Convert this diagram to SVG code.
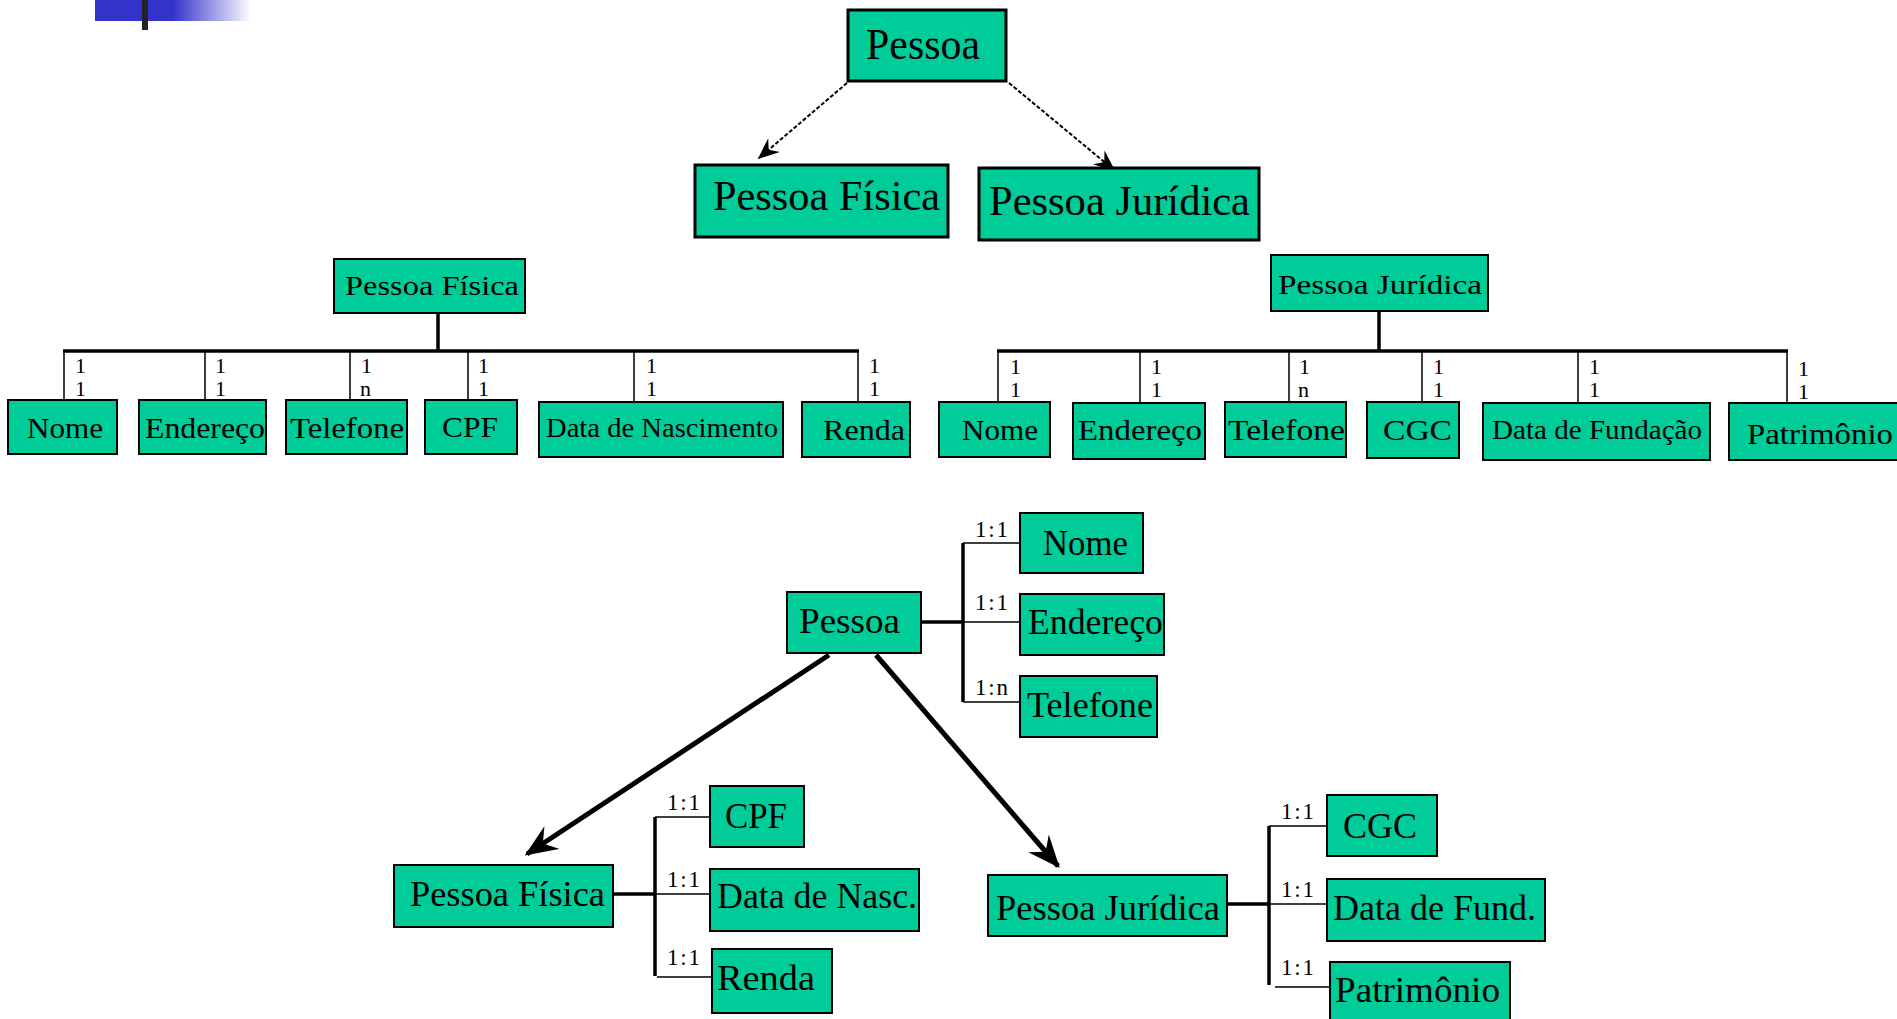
<svg xmlns="http://www.w3.org/2000/svg" width="1897" height="1019" viewBox="0 0 1897 1019">
  <defs>
    <linearGradient id="fade" x1="0" y1="0" x2="1" y2="0">
      <stop offset="0" stop-color="#3333cc"/>
      <stop offset="1" stop-color="#3333cc" stop-opacity="0"/>
    </linearGradient>
    <marker id="headThin" viewBox="0 0 12 10" refX="11" refY="5" markerWidth="24" markerHeight="18" markerUnits="userSpaceOnUse" orient="auto">
      <path d="M0,0 L12,5 L0,10 L4,5 z" fill="#000"/>
    </marker>
    <marker id="headBig" viewBox="0 0 12 10" refX="11" refY="5" markerWidth="6.5" markerHeight="5.5" orient="auto">
      <path d="M0,0 L12,5 L0,10 L4,5 z" fill="#000"/>
    </marker>
    <style>
      .box { fill: #00cc99; stroke: #000; stroke-width: 2; }
      .boxT { fill: #00cc99; stroke: #000; stroke-width: 3; }
      .lbl { font-family: "Liberation Serif", "DejaVu Serif", serif; fill: #000; }
      .num { font-family: "Liberation Serif", "DejaVu Serif", serif; font-size: 22px; fill: #000; }
      .card { font-family: "Liberation Serif", "DejaVu Serif", serif; font-size: 23px; fill: #000; }
      .thick { stroke: #000; stroke-width: 3.5; fill: none; }
      .thin { stroke: #000; stroke-width: 1.5; fill: none; }
      .dotted { stroke: #000; stroke-width: 2; stroke-dasharray: 4 2; fill: none; }
      .bold { stroke: #000; stroke-width: 5; fill: none; }
    </style>
  </defs>

  <!-- header ornament -->
  <rect x="95" y="0" width="78" height="21" fill="#3333cc"/>
  <rect x="173" y="0" width="78" height="21" fill="url(#fade)"/>
  <rect x="142" y="0" width="6" height="30" fill="#222"/>

  <!-- connectors -->
  <g id="connectors">
    <!-- top hierarchy -->
    <line class="dotted" x1="847" y1="83" x2="759" y2="158" marker-end="url(#headThin)"/>
    <line class="dotted" x1="1009" y1="83" x2="1114" y2="170" marker-end="url(#headThin)"/>

    <!-- Pessoa Física tree -->
    <line class="thick" x1="438" y1="313" x2="438" y2="351"/>
    <line class="thick" x1="63" y1="351" x2="859" y2="351"/>
    <path class="thin" d="M64,351 V400 M205,351 V400 M350,351 V400 M468,351 V400 M634,351 V402 M858,351 V402"/>
    <g class="num">
      <text x="75" y="373">1</text><text x="75" y="396">1</text>
      <text x="215" y="373">1</text><text x="215" y="396">1</text>
      <text x="361" y="373">1</text><text x="360" y="396">n</text>
      <text x="478" y="373">1</text><text x="478" y="396">1</text>
      <text x="646" y="373">1</text><text x="646" y="396">1</text>
      <text x="869" y="373">1</text><text x="869" y="396">1</text>
    </g>

    <!-- Pessoa Jurídica tree -->
    <line class="thick" x1="1379" y1="311" x2="1379" y2="351"/>
    <line class="thick" x1="997" y1="351" x2="1788" y2="351"/>
    <path class="thin" d="M998,351 V402 M1140,351 V403 M1289,351 V402 M1422,351 V402 M1578,351 V403 M1787,351 V403"/>
    <g class="num">
      <text x="1010" y="374">1</text><text x="1010" y="397">1</text>
      <text x="1151" y="374">1</text><text x="1151" y="397">1</text>
      <text x="1299" y="374">1</text><text x="1298" y="397">n</text>
      <text x="1433" y="374">1</text><text x="1433" y="397">1</text>
      <text x="1589" y="374">1</text><text x="1589" y="397">1</text>
      <text x="1798" y="376">1</text><text x="1798" y="399">1</text>
    </g>

    <!-- bottom: Pessoa attributes -->
    <line class="thick" x1="921" y1="622" x2="963" y2="622"/>
    <line class="thick" x1="963" y1="543" x2="963" y2="702"/>
    <path class="thin" d="M963,543 H1020 M963,622 H1020 M963,702 H1020"/>
    <g class="card">
      <text x="975" y="537" textLength="33">1:1</text>
      <text x="975" y="610" textLength="33">1:1</text>
      <text x="975" y="695" textLength="33">1:n</text>
    </g>

    <!-- bottom: specialisation arrows -->
    <line class="bold" x1="829" y1="655" x2="527" y2="854" marker-end="url(#headBig)"/>
    <line class="bold" x1="876" y1="655" x2="1058" y2="866" marker-end="url(#headBig)"/>

    <!-- bottom: Pessoa Física attributes -->
    <line class="thick" x1="613" y1="894" x2="655" y2="894"/>
    <line class="thick" x1="655" y1="817" x2="655" y2="976"/>
    <path class="thin" d="M655,817 H710 M655,894 H710 M657,977 H712"/>
    <g class="card">
      <text x="667" y="810" textLength="33">1:1</text>
      <text x="667" y="887" textLength="33">1:1</text>
      <text x="667" y="965" textLength="33">1:1</text>
    </g>

    <!-- bottom: Pessoa Jurídica attributes -->
    <line class="thick" x1="1227" y1="904" x2="1269" y2="904"/>
    <line class="thick" x1="1269" y1="826" x2="1269" y2="985"/>
    <path class="thin" d="M1269,826 H1327 M1269,904 H1327 M1275,987 H1330"/>
    <g class="card">
      <text x="1281" y="819" textLength="33">1:1</text>
      <text x="1281" y="897" textLength="33">1:1</text>
      <text x="1281" y="975" textLength="33">1:1</text>
    </g>
  </g>

  <!-- top hierarchy nodes -->
  <g id="top-pessoa">
    <rect class="boxT" x="848" y="10" width="158" height="71"/>
    <text class="lbl" x="866" y="59" font-size="44" textLength="114" lengthAdjust="spacingAndGlyphs">Pessoa</text>
  </g>
  <g id="top-pf">
    <rect class="boxT" x="695" y="165" width="253" height="72"/>
    <text class="lbl" x="713" y="210" font-size="42" textLength="227" lengthAdjust="spacingAndGlyphs">Pessoa Física</text>
  </g>
  <g id="top-pj">
    <rect class="boxT" x="979" y="168" width="280" height="72"/>
    <text class="lbl" x="989" y="215" font-size="42" textLength="261" lengthAdjust="spacingAndGlyphs">Pessoa Jurídica</text>
  </g>

  <!-- Pessoa Física tree nodes -->
  <g id="pf-root">
    <rect class="box" x="334" y="259" width="191" height="54"/>
    <text class="lbl" x="345" y="295" font-size="28" textLength="174" lengthAdjust="spacingAndGlyphs">Pessoa Física</text>
  </g>
  <g id="pf-nome">
    <rect class="box" x="8" y="400" width="109" height="54"/>
    <text class="lbl" x="27" y="438" font-size="30" textLength="76" lengthAdjust="spacingAndGlyphs">Nome</text>
  </g>
  <g id="pf-endereco">
    <rect class="box" x="139" y="400" width="127" height="54"/>
    <text class="lbl" x="145" y="438" font-size="30" textLength="120" lengthAdjust="spacingAndGlyphs">Endereço</text>
  </g>
  <g id="pf-telefone">
    <rect class="box" x="286" y="400" width="121" height="54"/>
    <text class="lbl" x="290" y="438" font-size="30" textLength="114" lengthAdjust="spacingAndGlyphs">Telefone</text>
  </g>
  <g id="pf-cpf">
    <rect class="box" x="425" y="400" width="92" height="54"/>
    <text class="lbl" x="442" y="437" font-size="30" textLength="56" lengthAdjust="spacingAndGlyphs">CPF</text>
  </g>
  <g id="pf-nascimento">
    <rect class="box" x="539" y="402" width="244" height="55"/>
    <text class="lbl" x="546" y="437" font-size="28" textLength="232" lengthAdjust="spacingAndGlyphs">Data de Nascimento</text>
  </g>
  <g id="pf-renda">
    <rect class="box" x="802" y="402" width="108" height="55"/>
    <text class="lbl" x="823" y="440" font-size="30" textLength="82" lengthAdjust="spacingAndGlyphs">Renda</text>
  </g>

  <!-- Pessoa Jurídica tree nodes -->
  <g id="pj-root">
    <rect class="box" x="1271" y="255" width="217" height="56"/>
    <text class="lbl" x="1278" y="294" font-size="28" textLength="204" lengthAdjust="spacingAndGlyphs">Pessoa Jurídica</text>
  </g>
  <g id="pj-nome">
    <rect class="box" x="939" y="402" width="111" height="55"/>
    <text class="lbl" x="962" y="440" font-size="30" textLength="76" lengthAdjust="spacingAndGlyphs">Nome</text>
  </g>
  <g id="pj-endereco">
    <rect class="box" x="1073" y="403" width="132" height="56"/>
    <text class="lbl" x="1078" y="440" font-size="30" textLength="124" lengthAdjust="spacingAndGlyphs">Endereço</text>
  </g>
  <g id="pj-telefone">
    <rect class="box" x="1225" y="402" width="121" height="55"/>
    <text class="lbl" x="1228" y="440" font-size="30" textLength="117" lengthAdjust="spacingAndGlyphs">Telefone</text>
  </g>
  <g id="pj-cgc">
    <rect class="box" x="1367" y="402" width="92" height="56"/>
    <text class="lbl" x="1383" y="440" font-size="30" textLength="69" lengthAdjust="spacingAndGlyphs">CGC</text>
  </g>
  <g id="pj-fundacao">
    <rect class="box" x="1483" y="403" width="227" height="57"/>
    <text class="lbl" x="1492" y="439" font-size="28" textLength="210" lengthAdjust="spacingAndGlyphs">Data de Fundação</text>
  </g>
  <g id="pj-patrimonio">
    <rect class="box" x="1729" y="403" width="180" height="57"/>
    <text class="lbl" x="1747" y="444" font-size="30" textLength="146" lengthAdjust="spacingAndGlyphs">Patrimônio</text>
  </g>

  <!-- bottom model nodes -->
  <g id="b-pessoa">
    <rect class="box" x="787" y="592" width="134" height="61"/>
    <text class="lbl" x="799" y="633" font-size="36" textLength="101" lengthAdjust="spacingAndGlyphs">Pessoa</text>
  </g>
  <g id="b-nome">
    <rect class="box" x="1020" y="513" width="123" height="60"/>
    <text class="lbl" x="1043" y="555" font-size="36" textLength="85" lengthAdjust="spacingAndGlyphs">Nome</text>
  </g>
  <g id="b-endereco">
    <rect class="box" x="1020" y="594" width="144" height="61"/>
    <text class="lbl" x="1028" y="634" font-size="36" textLength="135" lengthAdjust="spacingAndGlyphs">Endereço</text>
  </g>
  <g id="b-telefone">
    <rect class="box" x="1020" y="676" width="137" height="61"/>
    <text class="lbl" x="1027" y="717" font-size="36" textLength="126" lengthAdjust="spacingAndGlyphs">Telefone</text>
  </g>
  <g id="b-pf">
    <rect class="box" x="394" y="865" width="219" height="62"/>
    <text class="lbl" x="410" y="906" font-size="36" textLength="195" lengthAdjust="spacingAndGlyphs">Pessoa Física</text>
  </g>
  <g id="b-cpf">
    <rect class="box" x="710" y="786" width="94" height="61"/>
    <text class="lbl" x="725" y="828" font-size="36" textLength="62" lengthAdjust="spacingAndGlyphs">CPF</text>
  </g>
  <g id="b-nasc">
    <rect class="box" x="710" y="869" width="209" height="62"/>
    <text class="lbl" x="717" y="908" font-size="36" textLength="200" lengthAdjust="spacingAndGlyphs">Data de Nasc.</text>
  </g>
  <g id="b-renda">
    <rect class="box" x="712" y="949" width="120" height="64"/>
    <text class="lbl" x="717" y="990" font-size="36" textLength="98" lengthAdjust="spacingAndGlyphs">Renda</text>
  </g>
  <g id="b-pj">
    <rect class="box" x="988" y="875" width="239" height="61"/>
    <text class="lbl" x="996" y="920" font-size="36" textLength="224" lengthAdjust="spacingAndGlyphs">Pessoa Jurídica</text>
  </g>
  <g id="b-cgc">
    <rect class="box" x="1327" y="795" width="110" height="61"/>
    <text class="lbl" x="1343" y="838" font-size="36" textLength="74" lengthAdjust="spacingAndGlyphs">CGC</text>
  </g>
  <g id="b-fund">
    <rect class="box" x="1327" y="879" width="218" height="62"/>
    <text class="lbl" x="1333" y="920" font-size="36" textLength="203" lengthAdjust="spacingAndGlyphs">Data de Fund.</text>
  </g>
  <g id="b-patrimonio">
    <rect class="box" x="1330" y="962" width="180" height="70"/>
    <text class="lbl" x="1335" y="1002" font-size="36" textLength="165" lengthAdjust="spacingAndGlyphs">Patrimônio</text>
  </g>
</svg>
